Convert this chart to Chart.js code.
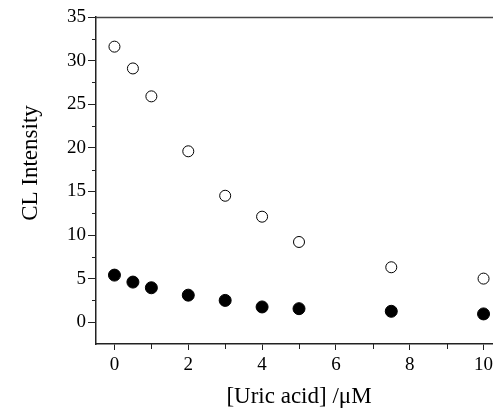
<!DOCTYPE html>
<html>
<head>
<meta charset="utf-8">
<script src="https://cdn.jsdelivr.net/npm/chart.js@4/dist/chart.umd.min.js"></script>
<style>
  html, body { margin: 0; padding: 0; background: #fff; overflow: hidden; }
  #wrap { width: 520px; height: 413px; }
</style>
</head>
<body>
<div id="wrap"><canvas id="c"></canvas></div>
<script>
// uric acid concentration (µM)
const uric = [0, 0.5, 1, 2, 3, 4, 5, 7.5, 10];
// open circles
const openVals = [31.6, 29.1, 25.9, 19.6, 14.5, 12.1, 9.2, 6.3, 5.0];
// filled circles
const filledVals = [5.4, 4.6, 3.95, 3.1, 2.5, 1.75, 1.55, 1.25, 0.95];

const xTicks = [0, 2, 4, 6, 8, 10];
const xMinor = [1, 3, 5, 7, 9];
const yTicks = [0, 5, 10, 15, 20, 25, 30, 35];
const yMinor = [2.5, 7.5, 12.5, 17.5, 22.5, 27.5, 32.5];

const serif = '"Liberation Serif", "DejaVu Serif", serif';
const axisColor = '#222';

function pts(ys){ return uric.map((x,i) => ({x, y: ys[i]})); }

const framePlugin = {
  id: 'frame',
  afterDraw(chart){
    const {ctx, chartArea, scales} = chart;
    const xs = scales.x, ys = scales.y;
    ctx.save();
    ctx.strokeStyle = '#444';
    ctx.lineWidth = 1.5;
    // top border
    ctx.beginPath();
    ctx.moveTo(chartArea.left, chartArea.top + 0.5);
    ctx.lineTo(chartArea.right, chartArea.top + 0.5);
    ctx.stroke();
    // minor ticks
    ctx.strokeStyle = axisColor;
    ctx.lineWidth = 1;
    xMinor.forEach(v => {
      const px = Math.round(xs.getPixelForValue(v)) + 0.5;
      ctx.beginPath();
      ctx.moveTo(px, chartArea.bottom);
      ctx.lineTo(px, chartArea.bottom + 5);
      ctx.stroke();
    });
    yMinor.forEach(v => {
      const py = Math.round(ys.getPixelForValue(v)) + 0.5;
      ctx.beginPath();
      ctx.moveTo(chartArea.left, py);
      ctx.lineTo(chartArea.left - 4, py);
      ctx.stroke();
    });
    // y title
    ctx.fillStyle = '#000';
    ctx.font = '23px ' + serif;
    ctx.textAlign = 'center';
    ctx.textBaseline = 'middle';
    ctx.translate(31, 163);
    ctx.rotate(-Math.PI / 2);
    ctx.fillText('CL Intensity', 0, 0);
    ctx.restore();
  }
};

new Chart(document.getElementById('c'), {
  type: 'scatter',
  data: {
    datasets: [
      { label: 'open', data: pts(openVals), pointStyle: 'circle', pointRadius: 5.5,
        backgroundColor: '#fff', borderColor: '#000', borderWidth: 1 },
      { label: 'filled', data: pts(filledVals), pointStyle: 'circle', pointRadius: 6,
        backgroundColor: '#000', borderColor: '#000', borderWidth: 1 }
    ]
  },
  options: {
    responsive: true,
    maintainAspectRatio: false,
    animation: false,
    devicePixelRatio: 1,
    layout: { padding: { top: 17, right: 18, left: 0, bottom: 0 } },
    plugins: { legend: { display: false }, tooltip: { enabled: false } },
    scales: {
      x: {
        type: 'linear', min: -0.5, max: 10.5,
        afterBuildTicks: s => { s.ticks = xTicks.map(v => ({value: v})); },
        afterFit: s => { s.height = 69; },
        grid: { drawOnChartArea: false, drawTicks: true, tickLength: 6, color: axisColor, tickColor: axisColor },
        border: { display: true, color: axisColor, width: 1.5 },
        ticks: { color: '#000', font: { family: serif, size: 19 }, padding: 4, maxRotation: 0 },
        title: { display: true, text: '[Uric acid] /\u03bcM', color: '#000',
          font: { family: serif, size: 23 }, padding: { top: 0, bottom: 2 } }
      },
      y: {
        type: 'linear', min: -2.5, max: 35,
        afterBuildTicks: s => { s.ticks = yTicks.map(v => ({value: v})); },
        afterFit: s => { s.width = 96; },
        grid: { drawOnChartArea: false, drawTicks: true, tickLength: 8, color: axisColor, tickColor: axisColor },
        border: { display: true, color: axisColor, width: 1.5 },
        ticks: { color: '#000', font: { family: serif, size: 19 }, padding: 2 }
      }
    }
  },
  plugins: [framePlugin]
});
</script>
</body>
</html>
